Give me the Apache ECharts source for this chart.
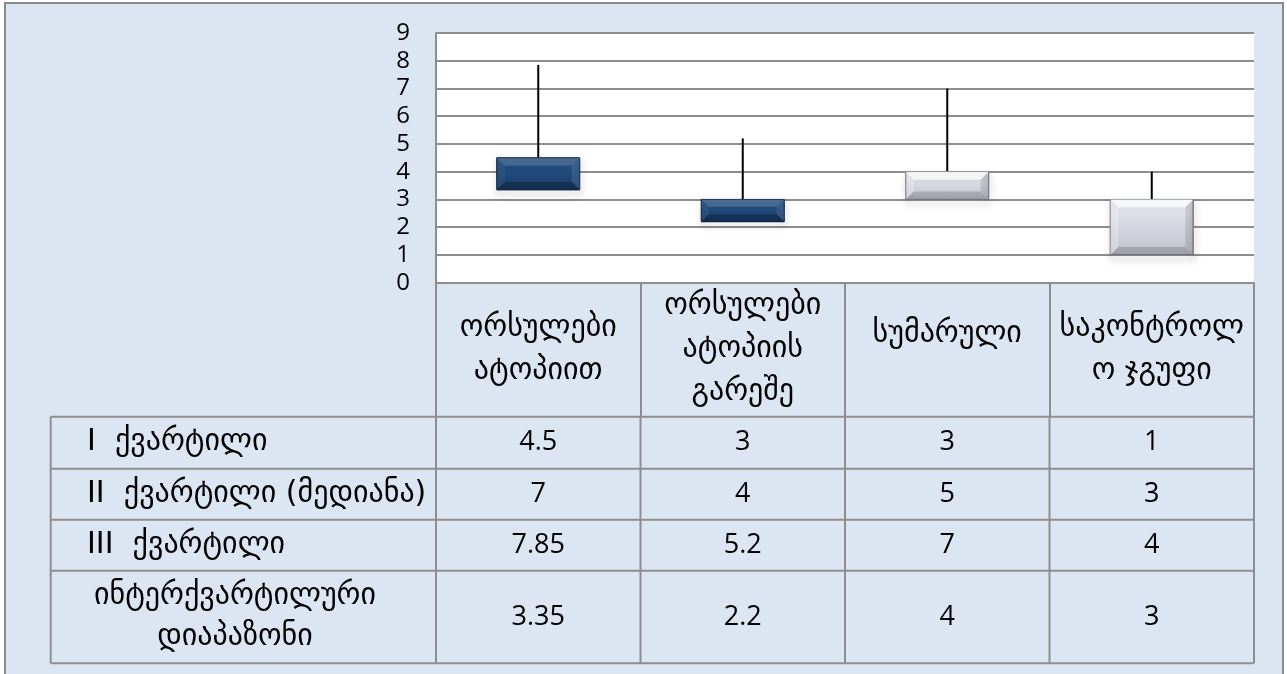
<!DOCTYPE html>
<html>
<head>
<meta charset="utf-8">
<script src="https://cdn.jsdelivr.net/npm/echarts@6/dist/echarts.min.js"></script>
<style>
  html, body { margin: 0; padding: 0; background: #ffffff; }
  #chart { width: 1287px; height: 674px; }
</style>
</head>
<body>
<div id="chart"></div>
<script>
// Groups (column headers of the data table)
const categories = [
  'ორსულები\nატოპიით',
  'ორსულები\nატოპიის\nგარეშე',
  'სუმარული',
  'საკონტროლ\nო ჯგუფი'
];
// Row names of the data table
const rowNames = [
  'I  ქვარტილი',
  'II  ქვარტილი (მედიანა)',
  'III  ქვარტილი',
  'ინტერქვარტილური\nდიაპაზონი'
];
// Series values per group
const q1 = [4.5, 3, 3, 1];
const median = [7, 4, 5, 3];
const q3 = [7.85, 5.2, 7, 4];
const iqr = [3.35, 2.2, 4, 3];
// Value axis ticks
const yMin = 0, yMax = 9, yStep = 1;

const FONT = "'Open Sans', 'DejaVu Sans', sans-serif";
const GEO = "'DejaVu Sans', sans-serif";
const LINE = '#8e8e8e';

// Stock-style layout: bar spans first -> last series, high-low line spans min -> max of all series
const rows = [q1, median, q3, iqr];
const stockData = categories.map((c, i) => {
  const vals = rows.map(r => r[i]);
  return [i, q1[i], iqr[i], Math.min(...vals), Math.max(...vals)];
});

function renderBox(params, api) {
  const i = api.value(0);
  const open = api.value(1), close = api.value(2);
  const low = api.value(3), high = api.value(4);
  const pHigh = api.coord([i, high]);
  const pLow = api.coord([i, low]);
  const pOpen = api.coord([i, open]);
  const pClose = api.coord([i, close]);
  const w = api.size([1, 0])[0] * 0.405;
  const x = pOpen[0] - w / 2;
  const yTop = Math.min(pOpen[1], pClose[1]);
  const yBot = Math.max(pOpen[1], pClose[1]);
  const h = yBot - yTop;
  const up = close >= open;
  const b = Math.min(8, h / 3);
  const face = up
    ? new echarts.graphic.LinearGradient(0, 0, 0, 1, [
        { offset: 0, color: '#e9ebf2' }, { offset: 1, color: '#bfc2cc' }])
    : new echarts.graphic.LinearGradient(0, 0, 0, 1, [
        { offset: 0, color: '#285589' }, { offset: 1, color: '#1a3d6b' }]);
  const edge = up ? '#7d7f86' : '#142f55';
  const bev = up
    ? ['rgba(255,255,255,0.75)', 'rgba(255,255,255,0.35)', 'rgba(0,0,0,0.10)', 'rgba(0,0,0,0.16)']
    : ['rgba(255,255,255,0.16)', 'rgba(255,255,255,0.06)', 'rgba(255,255,255,0.10)', 'rgba(0,0,0,0.25)'];
  return {
    type: 'group',
    children: [
      { type: 'line', shape: { x1: pHigh[0], y1: pHigh[1], x2: pLow[0], y2: pLow[1] },
        style: { stroke: '#000', lineWidth: 2 } },
      { type: 'rect', shape: { x: x, y: yTop, width: w, height: h },
        style: { fill: face, stroke: edge, lineWidth: 1,
                 shadowBlur: 7, shadowOffsetY: 4, shadowOffsetX: 1, shadowColor: 'rgba(0,0,0,0.4)' } },
      { type: 'polygon', shape: { points: [[x, yTop], [x + w, yTop], [x + w - b, yTop + b], [x + b, yTop + b]] },
        style: { fill: bev[0] } },
      { type: 'polygon', shape: { points: [[x, yTop], [x + b, yTop + b], [x + b, yBot - b], [x, yBot]] },
        style: { fill: bev[1] } },
      { type: 'polygon', shape: { points: [[x + w, yTop], [x + w, yBot], [x + w - b, yBot - b], [x + w - b, yTop + b]] },
        style: { fill: bev[2] } },
      { type: 'polygon', shape: { points: [[x, yBot], [x + w, yBot], [x + w - b, yBot - b], [x + b, yBot - b]] },
        style: { fill: bev[3] } }
    ]
  };
}

const chart = echarts.init(document.getElementById('chart'), null, { renderer: 'canvas' });
chart.setOption({
  animation: false,
  backgroundColor: '#ffffff',
  grid: { left: 436, top: 33, width: 818, height: 249.7, show: true,
          backgroundColor: '#ffffff', borderWidth: 0 },
  xAxis: {
    type: 'category',
    data: categories,
    boundaryGap: true,
    axisLine: { show: true, lineStyle: { color: LINE, width: 2 } },
    axisTick: { show: true, length: 134, alignWithLabel: false, lineStyle: { color: LINE, width: 2 } },
    axisLabel: {
      interval: 0, margin: 67, verticalAlign: 'middle', align: 'center',
      fontFamily: GEO, fontSize: 30, lineHeight: 43, color: '#000',
      // single-line headers sit a little above the cell centre
      formatter: v => v.indexOf('\n') >= 0 ? v : '{one|' + v + '}',
      rich: { one: { fontFamily: GEO, fontSize: 30, lineHeight: 43, padding: [0, 0, 30, 0] } }
    },
    splitLine: { show: false }
  },
  yAxis: {
    type: 'value',
    min: yMin, max: yMax, interval: yStep,
    axisLine: { show: true, lineStyle: { color: LINE, width: 2 } },
    axisTick: { show: false },
    axisLabel: { margin: 26, fontFamily: FONT, fontSize: 24, color: '#000' },
    splitLine: { show: true, lineStyle: { color: LINE, width: 2 } }
  },
  series: [{
    type: 'custom',
    renderItem: renderBox,
    encode: { x: 0, y: [1, 2, 3, 4] },
    data: stockData,
    z: 3
  }]
});

// Data table below the plot, aligned to the category bands
function buildTable() {
  const c0 = chart.convertToPixel({ xAxisIndex: 0 }, 0);
  const c1 = chart.convertToPixel({ xAxisIndex: 0 }, 1);
  const band = c1 - c0;
  const yAxis0 = chart.convertToPixel({ yAxisIndex: 0 }, 0);
  const left = 50.7;
  const xStart = c0 - band / 2;
  const xEnd = xStart + band * categories.length;
  const rowH = [52, 51, 51, 92.5];
  const rowTop = [yAxis0 + 134];
  rowH.forEach((h, k) => rowTop.push(rowTop[k] + h));
  const els = [];
  // outer frame
  els.push({ type: 'rect', z: -100, shape: { x: 5, y: 3, width: 1278, height: 700 },
             style: { fill: '#dce6f2', stroke: '#8a8a8a', lineWidth: 2 }, silent: true });
  // horizontal rules
  rowTop.forEach(y => els.push({ type: 'line', shape: { x1: left, y1: y, x2: xEnd, y2: y },
    style: { stroke: LINE, lineWidth: 2 } }));
  // vertical rules
  els.push({ type: 'line', shape: { x1: left, y1: rowTop[0], x2: left, y2: rowTop[4] }, style: { stroke: LINE, lineWidth: 2 } });
  for (let k = 0; k <= categories.length; k++) {
    const x = xStart + band * k;
    els.push({ type: 'line', shape: { x1: x, y1: rowTop[0], x2: x, y2: rowTop[4] }, style: { stroke: LINE, lineWidth: 2 } });
  }
  // row names
  rowNames.forEach((name, r) => {
    const cy = (rowTop[r] + rowTop[r + 1]) / 2;
    const multi = name.indexOf('\n') >= 0;
    els.push({ type: 'text', x: multi ? 235 : 87, y: cy,
      style: { text: name, font: '30px ' + GEO, fill: '#000', lineHeight: 41,
               textAlign: multi ? 'center' : 'left', textVerticalAlign: 'middle' } });
  });
  // values
  rows.forEach((vals, r) => {
    const cy = (rowTop[r] + rowTop[r + 1]) / 2;
    vals.forEach((v, i) => {
      const cx = chart.convertToPixel({ xAxisIndex: 0 }, i);
      els.push({ type: 'text', x: cx, y: cy,
        style: { text: String(v), font: '27px ' + FONT, fill: '#000',
                 textAlign: 'center', textVerticalAlign: 'middle' } });
    });
  });
  chart.setOption({ graphic: { elements: els } });
}
buildTable();
</script>
</body>
</html>
